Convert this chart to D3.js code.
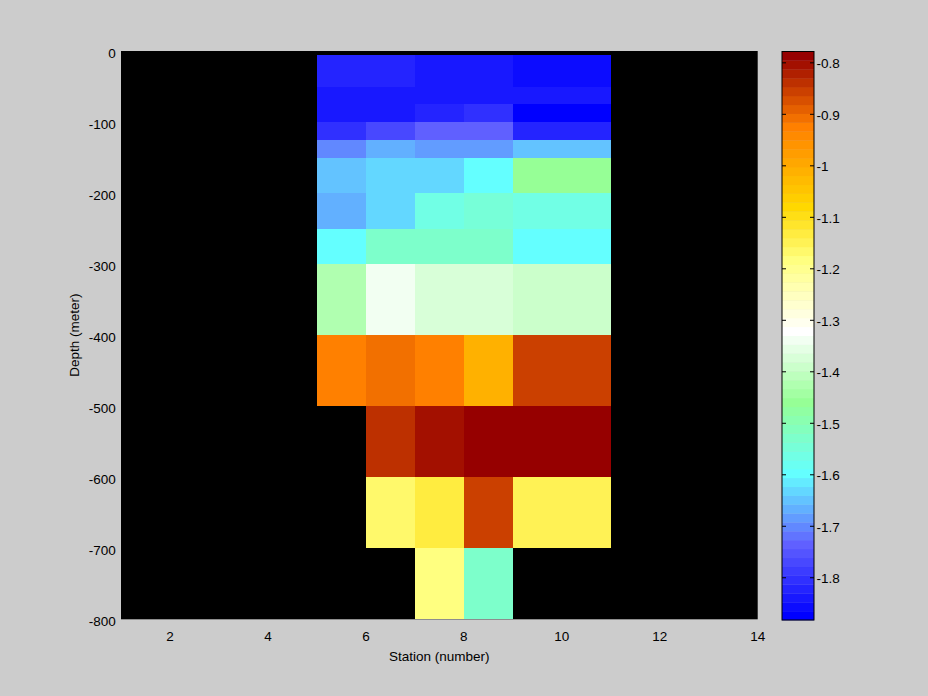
<!DOCTYPE html>
<html><head><meta charset="utf-8">
<script src="https://cdn.jsdelivr.net/npm/d3@7"></script>
<style>
html,body{margin:0;padding:0;background:#cccccc;}
svg{display:block;}
text{font-family:"Liberation Sans",Arial,Helvetica,sans-serif;font-size:13.5px;fill:#000;}
</style>
</head><body>
<svg id="chart" width="928" height="696"></svg>
<script>
// ---- data ----
const stationEdges = [5, 6, 7, 8, 9, 11];
const depthEdges = [-5, -50, -75, -100, -125, -150, -200, -250, -300, -400, -500, -600, -700, -800];
const row01 = [-1.822, -1.822, -1.839, -1.839, -1.856];
const row02 = [-1.839, -1.839, -1.839, -1.839, -1.839];
const row03 = [-1.839, -1.839, -1.822, -1.804, -1.882];
const row04 = [-1.804, -1.770, -1.735, -1.735, -1.822];
const row05 = [-1.701, -1.666, -1.684, -1.684, -1.649];
const row06 = [-1.649, -1.632, -1.632, -1.597, -1.459];
const row07 = [-1.666, -1.632, -1.563, -1.546, -1.563];
const row08 = [-1.597, -1.528, -1.528, -1.528, -1.597];
const row09 = [-1.425, -1.339, -1.373, -1.373, -1.390];
const row10 = [-0.925, -0.907, -0.925, -1.011, -0.856];
const row11 = [null, -0.838, -0.804, -0.778, -0.778];
const row12 = [null, -1.166, -1.132, -0.856, -1.149];
const row13 = [null, null, -1.183, -1.528, null];
const values = [row01,row02,row03,row04,row05,row06,row07,row08,row09,row10,row11,row12,row13];
const xTicks = [2, 4, 6, 8, 10, 12, 14];
const yTicks = [0, -100, -200, -300, -400, -500, -600, -700, -800];
const cbTicks = [-0.8, -0.9, -1, -1.1, -1.2, -1.3, -1.4, -1.5, -1.6, -1.7, -1.8];
const colorDomain = [-1.882, -0.778];
const xLabel = "Station (number)";
const yLabel = "Depth (meter)";

// colormap stops (band index -> colour), 64 bands
const cmapStops = [[0,"#0000ff"],[8,"#6060ff"],[16,"#64ffff"],[24,"#96ff96"],[32,"#ffffff"],
  [40,"#ffff80"],[46,"#ffd800"],[55,"#ff8000"],[63,"#960000"]];
const nColors = 64;
const colors = [];
for (let i = 0; i < nColors; i++) {
  let k = 0;
  while (k < cmapStops.length - 2 && i > cmapStops[k+1][0]) k++;
  const [i0, c0] = cmapStops[k], [i1, c1] = cmapStops[k+1];
  colors.push(d3.interpolateRgb(c0, c1)((i - i0) / (i1 - i0)));
}

// ---- layout ----
const svg = d3.select("#chart");
const plot = {x0: 121, x1: 757.7, y0: 51, y1: 619.3};
const x = d3.scaleLinear().domain([1, 14]).range([plot.x0, plot.x1]);
const y = d3.scaleLinear().domain([-800, 0]).range([plot.y1, plot.y0]);
const color = d3.scaleQuantize().domain(colorDomain).range(colors);

svg.append("rect").attr("width", 928).attr("height", 696).attr("fill", "#cccccc");
svg.append("rect").attr("x", plot.x0).attr("y", plot.y0)
  .attr("width", plot.x1 - plot.x0).attr("height", plot.y1 - plot.y0).attr("fill", "#000");

const cells = [];
values.forEach((row, i) => row.forEach((v, j) => {
  if (v !== null) cells.push({i, j, v});
}));
svg.append("g").selectAll("rect").data(cells).join("rect")
  .attr("x", d => x(stationEdges[d.j]))
  .attr("width", d => x(stationEdges[d.j+1]) - x(stationEdges[d.j]))
  .attr("y", d => y(depthEdges[d.i]))
  .attr("height", d => y(depthEdges[d.i+1]) - y(depthEdges[d.i]))
  .attr("fill", d => color(d.v))
  .attr("shape-rendering", "crispEdges");

// axes tick labels
svg.append("g").selectAll("text").data(xTicks).join("text")
  .attr("x", d => x(d)).attr("y", 640.5).attr("text-anchor", "middle").text(d => String(d));
svg.append("g").selectAll("text").data(yTicks).join("text")
  .attr("x", 115.7).attr("y", d => y(d) + 7).attr("text-anchor", "end").text(d => String(d));
svg.append("text").attr("x", (plot.x0 + plot.x1) / 2).attr("y", 661)
  .attr("text-anchor", "middle").text(xLabel);
svg.append("text").attr("transform", `translate(79.3,${(plot.y0 + plot.y1) / 2}) rotate(-90)`)
  .attr("text-anchor", "middle").text(yLabel);

// colorbar
const cb = {x0: 782, x1: 814, y0: 51.5, y1: 620};
const cy = d3.scaleLinear().domain(colorDomain).range([cb.y1, cb.y0]);
const bandW = (colorDomain[1] - colorDomain[0]) / nColors;
svg.append("g").selectAll("rect").data(colors).join("rect")
  .attr("x", cb.x0).attr("width", cb.x1 - cb.x0)
  .attr("y", (c, i) => cy(colorDomain[0] + (i + 1) * bandW))
  .attr("height", (c, i) => cy(colorDomain[0] + i * bandW) - cy(colorDomain[0] + (i + 1) * bandW) + 0.3)
  .attr("fill", c => c);
svg.append("rect").attr("x", cb.x0).attr("y", cb.y0)
  .attr("width", cb.x1 - cb.x0).attr("height", cb.y1 - cb.y0)
  .attr("fill", "none").attr("stroke", "#000").attr("stroke-width", 1);
const tg = svg.append("g");
tg.selectAll("line.l").data(cbTicks).join("line").attr("class", "l")
  .attr("x1", cb.x0).attr("x2", cb.x0 + 4).attr("y1", d => cy(d)).attr("y2", d => cy(d))
  .attr("stroke", "#000");
tg.selectAll("line.r").data(cbTicks).join("line").attr("class", "r")
  .attr("x1", cb.x1 - 4).attr("x2", cb.x1).attr("y1", d => cy(d)).attr("y2", d => cy(d))
  .attr("stroke", "#000");
tg.selectAll("text").data(cbTicks).join("text")
  .attr("x", cb.x1 + 2.5).attr("y", d => cy(d) + 5.5).text(d => String(d));
</script>
</body></html>
